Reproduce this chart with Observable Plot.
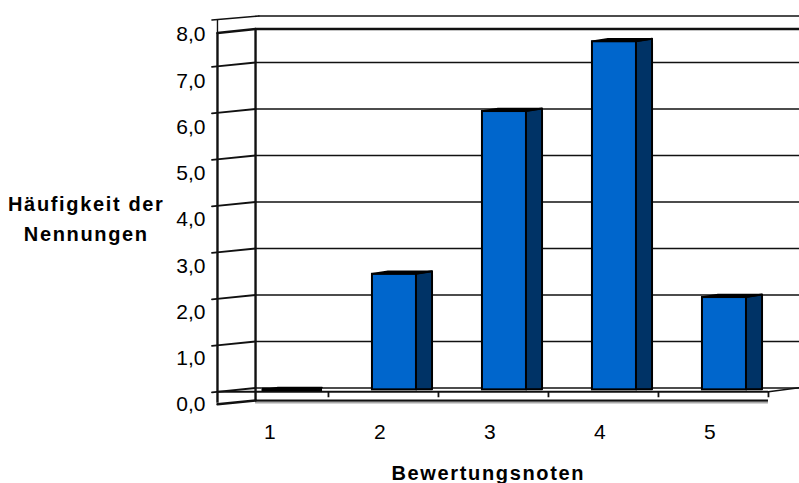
<!DOCTYPE html>
<html><head><meta charset="utf-8">
<script src="https://cdn.jsdelivr.net/npm/d3@7"></script>
<script src="https://cdn.jsdelivr.net/npm/@observablehq/plot@0.6"></script>
<style>html,body{margin:0;padding:0;background:#fff}svg{display:block}
g[font-weight="bold"] text{letter-spacing:1.65px}</style>
</head><body><div id="c"></div>
<script>
const notes=[1,2,3,4,5];
const counts=[0,2.5,6,7.5,2];
const gridValues=[1,2,3,4,5,6,7,8];
const tickLabels=["0,0","1,0","2,0","3,0","4,0","5,0","6,0","7,0","8,0"];
const yTitle=["Häufigkeit der","Nennungen"];
const xTitle="Bewertungsnoten";
const ink="#111", front="#0066cc", side="#003366", F="'Liberation Sans',Arial,sans-serif";
const wallFront=0.518, wallBack=0.864, floorEnd=5.527, plotEnd=5.82;
const barL=-0.073, barR=0.327, barD=0.473;
const lift=0.086, roof=7.72, labelShift=-0.358, drop=0.055, base=-0.04;

const sides=notes.flatMap((n,i)=>counts[i]>0?[{n,x:n+barR,y1:base,y2:counts[i]-drop},{n,x:n+barD,y1:base,y2:counts[i]}]:[]);
const tops=notes.flatMap((n,i)=>{const v=counts[i];return [
  {n,x:n+barL,y1:v-drop,y2:v-drop},{n,x:n+barL+0.146,y1:v-drop,y2:v},
  {n,x:n+barR,y1:v-drop,y2:v},{n,x:n+barD,y1:v,y2:v}];});

const chart=Plot.plot({
  width:799,height:483,margin:0,
  style:{background:"#fff",fontFamily:F},
  x:{type:"linear",domain:[-1.4545,5.8091],range:[0,799],axis:null},
  y:{type:"linear",domain:[-2.054,8.333],range:[483,0],axis:null},
  marks:[
    Plot.ruleY(gridValues.filter(v=>v<8),{y:d=>d,x1:wallBack,x2:plotEnd,stroke:ink,strokeWidth:1.7}),
    Plot.ruleY([8],{x1:wallBack+0.03,x2:plotEnd,stroke:ink,strokeWidth:1.7}),
    Plot.ruleY([0],{x1:wallBack,x2:plotEnd,stroke:ink,strokeWidth:1.7}),
    Plot.ruleY([roof],{x1:wallBack,x2:plotEnd,stroke:ink,strokeWidth:2.4}),
    ...[0,...gridValues.filter(v=>v<8)].map(v=>Plot.line([[wallFront-0.05,v-lift-0.01],[wallBack,v]],{stroke:ink,strokeWidth:1.8})),
    Plot.line([[wallFront-0.05,8-lift],[wallBack+0.03,8]],{stroke:ink,strokeWidth:1.6}),
    Plot.line([[wallFront,roof-lift],[wallBack,roof]],{stroke:ink,strokeWidth:2.4}),
    Plot.ruleX([wallFront],{y1:-0.33,y2:roof-lift,stroke:ink,strokeWidth:2.4}),
    Plot.ruleX([wallFront],{y1:roof-lift,y2:8-lift,stroke:ink,strokeWidth:1.4}),
    Plot.ruleX([wallBack],{y1:-0.27,y2:roof,stroke:ink,strokeWidth:2.4}),
    Plot.ruleY([-0.08],{x1:wallFront,x2:floorEnd,stroke:ink,strokeWidth:2}),
    Plot.line([[floorEnd,-0.08],[plotEnd,0.01]],{stroke:ink,strokeWidth:1.6}),
    Plot.ruleY([-0.305],{x1:wallBack,x2:floorEnd,stroke:"#a8a8a8",strokeWidth:2.5}),
    Plot.ruleY([-0.27],{x1:wallBack,x2:floorEnd,stroke:ink,strokeWidth:2}),
    Plot.line([[wallFront,-0.35],[wallBack,-0.27]],{stroke:ink,strokeWidth:2.4}),
    Plot.ruleX(notes,{x:d=>d+0.527,y1:-0.21,y2:-0.08,stroke:ink,strokeWidth:1.8}),
    Plot.areaY(sides,{x:"x",y1:"y1",y2:"y2",z:"n",fill:side,stroke:"#000",strokeWidth:2}),
    Plot.rect(notes.filter((n,i)=>counts[i]>0),{x1:d=>d+barL,x2:d=>d+barR,y1:base,y2:d=>counts[d-1]-drop,fill:front,stroke:"#000",strokeWidth:2}),
    Plot.areaY(tops,{x:"x",y1:"y1",y2:"y2",z:"n",fill:"#000",stroke:"#000",strokeWidth:1.6}),
    Plot.ruleY(notes.filter((n,i)=>counts[i]===0),{y:d=>counts[d-1]-0.03,x1:d=>d+barL,x2:d=>d+barD,stroke:"#000",strokeWidth:3.5}),
    Plot.text(tickLabels,{x:()=>0.409,y:(d,i)=>i*0.9946+labelShift,text:d=>d,textAnchor:"end",fontSize:21,fill:"#000"}),
    Plot.text(notes,{x:d=>d-0.005,y:-0.955,text:d=>String(d),fontSize:21,fill:"#000"}),
    Plot.text(yTitle,{x:()=>-0.675,y:(d,i)=>3.95-i*0.645,text:d=>d,fontSize:20,fontWeight:"bold",fill:"#000"}),
    Plot.text([xTitle],{x:()=>2.98,y:-1.85,text:d=>d,fontSize:20,fontWeight:"bold",fill:"#000"})
  ]
});
document.getElementById("c").appendChild(chart);
</script></body></html>
